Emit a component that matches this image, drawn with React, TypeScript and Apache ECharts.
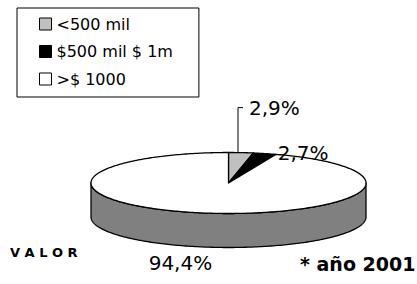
import React, { useEffect, useRef } from "react";
import * as echarts from "echarts";

// ---- data ----
const categories: string[] = ["<500 mil", "$500 mil $ 1m", ">$ 1000"];
const values: number[] = [2.9, 2.7, 94.4];
const seriesTitle = "V A L O R";
const footnote = "* año 2001";

// ---- styles / layout ----
const sliceColors = ["#c0c0c0", "#000000", "#ffffff"];
const wallColors = ["#606060", "#000000", "#808080"];
const FONT = "DejaVu Sans";
const CX = 228.5;
const CY = 183;
const RX = 137.5;
const RY = 30.5;
const DEPTH = 34;
// label placement relative to the slice's rim anchor
const labelLayout = [
  { text: [8, -45], align: "left", leader: [[-3, 0], [-3, -45], [2, -45]], onBottom: false },
  { text: [13, -1], align: "left", leader: null, onBottom: false },
  { text: [-24, 16], align: "center", leader: null, onBottom: true },
];

function pt(theta: number, dy = 0): number[] {
  return [CX + RX * Math.sin(theta), CY - RY * Math.cos(theta) + dy];
}

function arc(a0: number, a1: number, dy: number): number[][] {
  const n = Math.max(2, Math.ceil((a1 - a0) / (Math.PI / 180)));
  const pts: number[][] = [];
  for (let i = 0; i <= n; i++) {
    pts.push(pt(a0 + ((a1 - a0) * i) / n, dy));
  }
  return pts;
}

function fmt(v: number): string {
  return v.toFixed(1).replace(".", ",") + "%";
}

function makeRender(idx: number) {
  return (params: any, api: any) => {
    const v = api.value(0) as number;
    const total = values.reduce((s, x) => s + x, 0);
    let before = 0;
    for (let j = 0; j < idx; j++) before += values[j];
    const a0 = (before / total) * Math.PI * 2;
    const a1 = ((before + v) / total) * Math.PI * 2;
    const children: any[] = [];
    const s0 = Math.max(a0, Math.PI / 2);
    const s1 = Math.min(a1, (Math.PI * 3) / 2);
    if (s1 > s0) {
      const top = arc(s0, s1, 0);
      const bot = arc(s0, s1, DEPTH).reverse();
      children.push({
        type: "polygon",
        z2: 1,
        shape: { points: top.concat(bot) },
        style: { fill: wallColors[idx], stroke: "#000", lineWidth: 1.3, lineJoin: "round" },
      });
    }
    children.push({
      type: "polygon",
      z2: 5,
      shape: { points: [[CX, CY]].concat(arc(a0, a1, 0)) },
      style: { fill: sliceColors[idx], stroke: "#000", lineWidth: 1.3, lineJoin: "round" },
    });
    const lay = labelLayout[idx];
    const mid = (a0 + a1) / 2;
    const anchor = pt(mid, lay.onBottom ? DEPTH : 0);
    if (lay.leader) {
      children.push({
        type: "polyline",
        z2: 8,
        shape: { points: lay.leader.map((p) => [anchor[0] + p[0], anchor[1] + p[1]]) },
        style: { stroke: "#000", lineWidth: 1, fill: null },
      });
    }
    children.push({
      type: "text",
      z2: 10,
      x: anchor[0] + lay.text[0],
      y: anchor[1] + lay.text[1],
      style: {
        text: fmt(v),
        fill: "#000",
        fontSize: 20,
        fontFamily: FONT,
        align: lay.align,
        verticalAlign: "middle",
      },
    });
    return { type: "group", children };
  };
}

export default function App() {
  const ref = useRef<HTMLDivElement>(null);
  useEffect(() => {
    document.body.style.margin = "0";
    if (!ref.current) return;
    const chart = echarts.init(ref.current, null, { renderer: "svg" });
    chart.setOption({
      animation: false,
      backgroundColor: "#ffffff",
      legend: {
        orient: "vertical",
        left: 17,
        top: 8,
        padding: [8, 26, 10, 22],
        itemWidth: 12,
        itemHeight: 12,
        itemGap: 11.5,
        icon: "rect",
        borderColor: "#000",
        borderWidth: 1,
        backgroundColor: "#fff",
        itemStyle: { borderColor: "#000", borderWidth: 1 },
        textStyle: { fontSize: 16, fontFamily: FONT, color: "#000", lineHeight: 16 },
        data: categories,
      },
      graphic: [
        {
          type: "text",
          left: 10,
          top: 246,
          style: { text: seriesTitle, fontSize: 13, fontWeight: "bold", fontFamily: FONT, fill: "#000" },
        },
        {
          type: "text",
          left: 300,
          top: 254,
          style: { text: footnote, fontSize: 19, fontWeight: "bold", fontFamily: FONT, fill: "#000" },
        },
      ],
      series: categories.map((name, i) => ({
        type: "custom",
        name,
        coordinateSystem: "none",
        itemStyle: { color: sliceColors[i] },
        data: [[values[i]]],
        renderItem: makeRender(i),
      })),
    });
    return () => chart.dispose();
  }, []);
  return <div ref={ref} style={{ width: 417, height: 284 }} />;
}
